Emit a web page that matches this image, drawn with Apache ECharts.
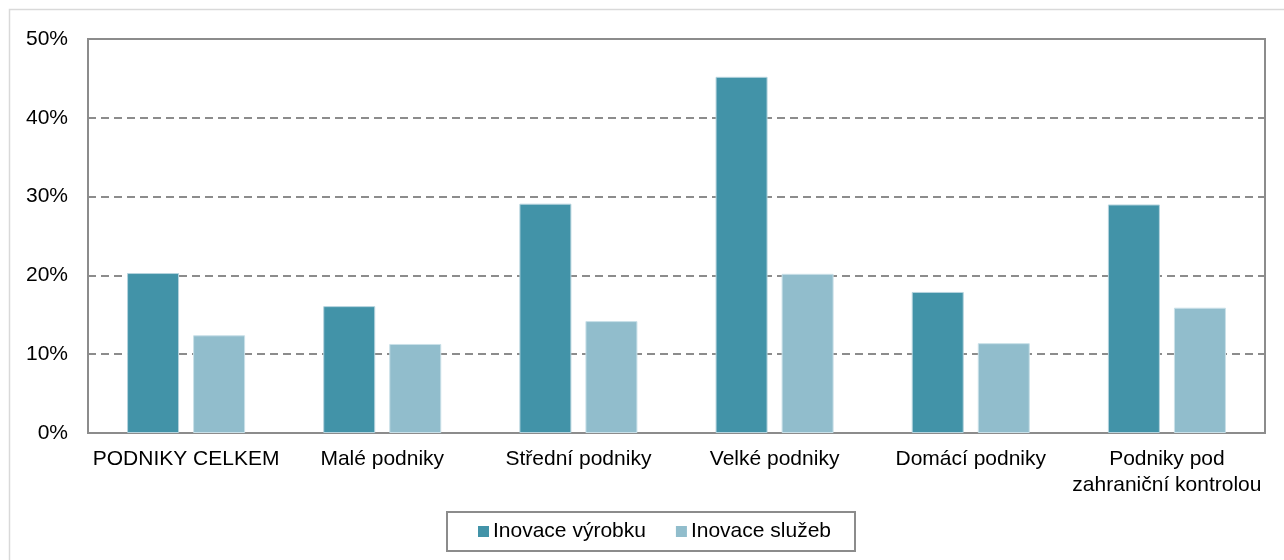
<!DOCTYPE html>
<html>
<head>
<meta charset="utf-8">
<script src="https://cdn.jsdelivr.net/npm/echarts@6/dist/echarts.min.js"></script>
<style>
html,body{margin:0;padding:0;background:#fff;}
#chart{width:1284px;height:560px;}
</style>
</head>
<body>
<div id="chart"></div>
<script>
var categories = ['PODNIKY CELKEM', 'Malé podniky', 'Střední podniky', 'Velké podniky', 'Domácí podniky', 'Podniky pod\nzahraniční kontrolou'];
var seriesNames = ['Inovace výrobku', 'Inovace služeb'];
var vyrobku = [20.3, 16.1, 29.1, 45.2, 17.9, 29.0];
var sluzeb = [12.4, 11.3, 14.2, 20.2, 11.4, 15.9];

var font = "'Liberation Sans', Arial, sans-serif";
var myChart = echarts.init(document.getElementById('chart'), null, {renderer: 'canvas'});
var option = {
    animation: false,
    backgroundColor: '#fff',
    graphic: [{
        type: 'rect',
        shape: {x: 9.5, y: 9.5, width: 1320, height: 600},
        style: {fill: 'none', stroke: '#d9d9d9', lineWidth: 1.5},
        silent: true
    }],
    grid: {
        left: 88, right: 19, top: 39, bottom: 127,
        show: true, borderColor: '#8c8c8c', borderWidth: 2
    },
    legend: {
        left: 447, top: 512,
        padding: [9, 24, 9, 31],
        borderColor: '#8c8c8c', borderWidth: 2,
        itemWidth: 11, itemHeight: 11, itemGap: 30,
        icon: 'rect',
        itemStyle: {borderWidth: 0},
        textStyle: {fontFamily: font, fontSize: 21, color: '#000', padding: [0, 0, 0, -1]},
        data: seriesNames
    },
    xAxis: {
        type: 'category',
        data: categories,
        axisTick: {show: false},
        axisLine: {lineStyle: {color: '#8c8c8c', width: 2}},
        axisLabel: {fontFamily: font, fontSize: 21, color: '#000', margin: 13, lineHeight: 26, interval: 0}
    },
    yAxis: {
        type: 'value',
        min: 0, max: 50, interval: 10,
        axisLine: {show: true, lineStyle: {color: '#8c8c8c', width: 2}},
        axisLabel: {fontFamily: font, fontSize: 21, color: '#000', margin: 20, formatter: '{value}%'},
        splitLine: {lineStyle: {color: '#8c8c8c', width: 2, type: [8, 5]}}
    },
    series: [{
        name: seriesNames[0],
        type: 'bar',
        data: vyrobku,
        barWidth: 52,
        barGap: '27%',
        itemStyle: {color: '#4293a8', borderColor: '#b5d3dd', borderWidth: 1}
    }, {
        name: seriesNames[1],
        type: 'bar',
        data: sluzeb,
        barWidth: 52,
        itemStyle: {color: '#91bdcc', borderColor: '#c9e0e8', borderWidth: 1}
    }]
};
myChart.setOption(option);
</script>
</body>
</html>
